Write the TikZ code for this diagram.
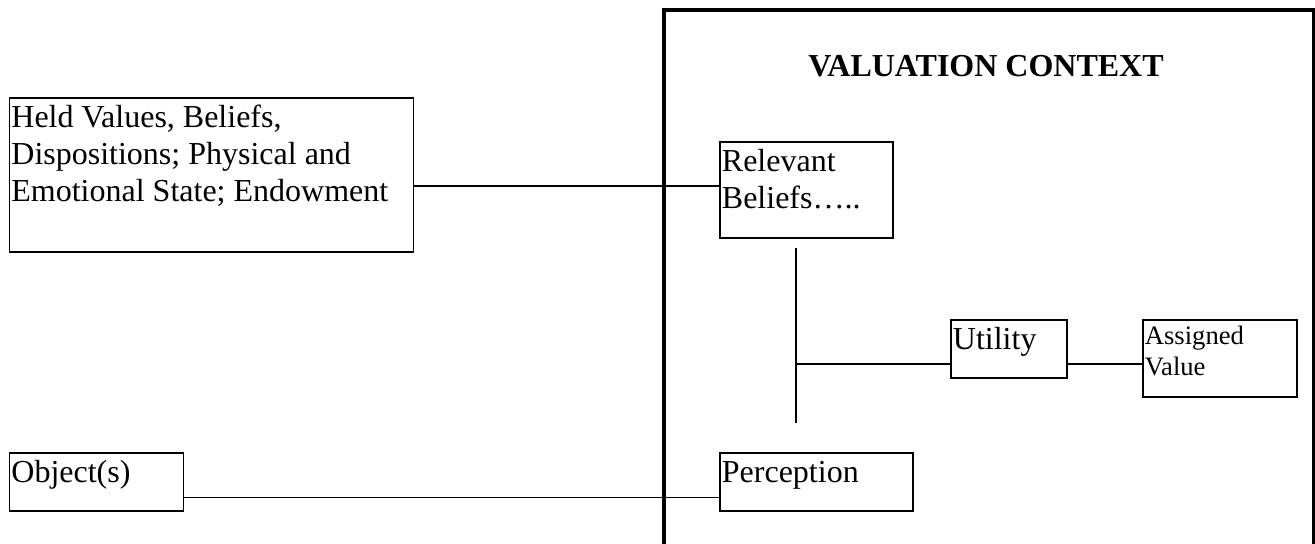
\documentclass[tikz,border=0pt]{standalone}
\usepackage{fontspec}
\setmainfont{Liberation Serif}
\usetikzlibrary{calc}
\newcommand{\bodysize}{\fontsize{16pt}{18.5pt}\selectfont}
\newcommand{\smallsize}{\fontsize{13.3pt}{15.5pt}\selectfont}
\newcommand{\cell}[3]{\parbox[t][#2][t]{#1}{\rule{0pt}{0.94em}#3}}
\tikzset{panel/.style={draw,line width=0.9pt,anchor=north west,inner xsep=1pt,inner ysep=0pt,font=#1},panel/.default=\bodysize}
\tikzset{frame/.style={draw,line width=2pt,anchor=north west,inner sep=0pt,minimum width=325pt,minimum height=268.5pt}}
\tikzset{heading/.style={anchor=base west,inner sep=0pt,font=\bodysize\bfseries}}
\tikzset{link/.style={line width=0.9pt}}

\begin{document}
\begin{tikzpicture}[x=0.5pt,y=-0.5pt]
	\useasboundingbox (0,0) rectangle (1315,544);
	% outer frame and its heading
	\node [frame] (context) at (662,8) {};
	\node [heading] (title) at (808,77) {VALUATION CONTEXT};
	
	% boxes
	\node [panel] (held) at (8.5,97) {\cell{200pt}{77pt}{Held Values, Beliefs,\\Dispositions; Physical and\\Emotional State; Endowment}};
	\node [panel] (objects) at (8.5,452) {\cell{85pt}{29pt}{Object(s)}};
	\node [panel] (beliefs) at (719,141) {\cell{84.5pt}{48pt}{Relevant\\Beliefs…..}};
	\node [panel] (perception) at (719,452) {\cell{94.5pt}{29pt}{Perception}};
	\node [panel] (utility) at (950,319) {\cell{56pt}{29pt}{Utility}};
	\node [panel=\smallsize] (assigned) at (1142,319) {\cell{75pt}{38.5pt}{Assigned\\Value}};
	
	% connectors
	\coordinate (trunk top) at (796,248);
	\coordinate (trunk bottom) at (796,423);
	\coordinate (utility in) at ([yshift=-7.5pt]utility.west);
	\coordinate (utility out) at ([yshift=-7.5pt]utility.east);
	\draw [link] ([yshift=2pt]beliefs.west) -- ([yshift=2pt]beliefs.west -| held.east);
	\draw [link] ([yshift=-7.75pt]objects.east) -- ([yshift=-7.75pt]perception.west);
	\draw [link] (trunk top) -- (trunk bottom);
	\draw [link] (utility in) -- (utility in -| trunk top);
	\draw [link] (utility out) -- (utility out -| assigned.west);
\end{tikzpicture}
\end{document}
